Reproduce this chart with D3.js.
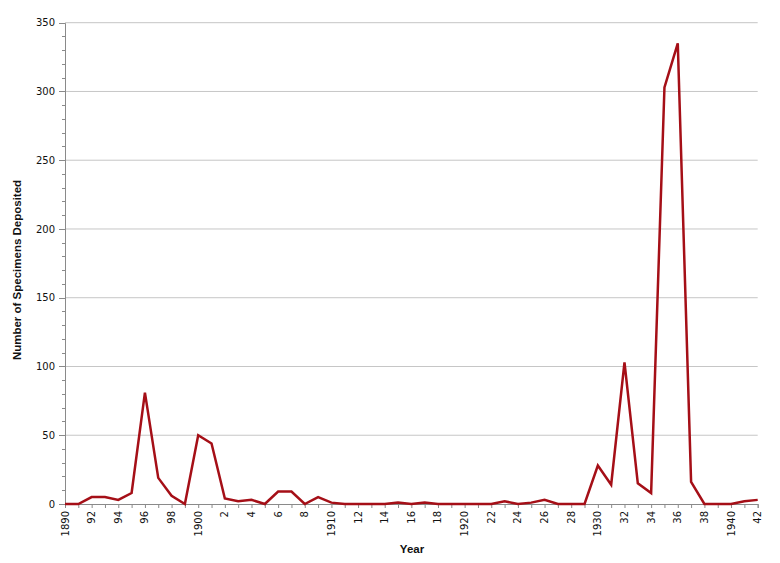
<!DOCTYPE html>
<html><head><meta charset="utf-8">
<script src="https://cdn.jsdelivr.net/npm/d3@7"></script>
<style>body{margin:0;background:#fff}</style>
</head><body>
<svg id="c" width="780" height="563"></svg>
<script>
const years = d3.range(1890, 1943);
const specimens = [0,0,5,5,3,8,81,19,6,0,
  50,44,4,2,3,0,9,9,0,5,
  1,0,0,0,0,1,0,1,0,0,
  0,0,0,2,0,1,3,0,0,0,
  28,14,103,15,8,303,335,16,0,0,
  0,2,3];
const tickYears = d3.range(1890, 1943, 2);
const tickLabels = ["1890","92","94","96","98","1900","2","4","6","8","1910","12","14","16","18","1920","22","24","26","28","1930","32","34","36","38","1940","42"];
const yTicks = [0,50,100,150,200,250,300,350];

const svg = d3.select("#c");
const L = 65, R = 757.7, T = 22.7, B = 504;
const x = d3.scaleLinear().domain([1890, 1942]).range([L, R]);
const y = d3.scaleLinear().domain([0, 350]).range([B, T]);

// gridlines
svg.append("g").selectAll("line").data(yTicks.filter(d => d > 0)).join("line")
  .attr("x1", L).attr("x2", R).attr("y1", d => y(d)).attr("y2", d => y(d))
  .attr("stroke", "#c6c6c6").attr("stroke-width", 1);

// y axis minor ticks
const minor = d3.range(0, 351, 10);
svg.append("g").selectAll("line").data(minor).join("line")
  .attr("x1", d => L - (d % 50 === 0 ? 6 : 3)).attr("x2", L)
  .attr("y1", d => Math.round(y(d)) + 0.5).attr("y2", d => Math.round(y(d)) + 0.5)
  .attr("stroke", "#8a8a8a");

// y axis
const yAxis = d3.axisLeft(y).tickValues(yTicks).tickSize(0).tickPadding(10);
const gy = svg.append("g").attr("transform", `translate(${L},0)`).call(yAxis);
gy.select(".domain").attr("stroke", "#8a8a8a");
gy.selectAll("text").attr("font-family", "DejaVu Sans, Verdana, sans-serif").attr("font-size", 10).attr("fill", "#111");

// x axis
const xAxis = d3.axisBottom(x).tickValues(years).tickSize(4).tickFormat(() => "");
const gx = svg.append("g").attr("transform", `translate(0,${B})`).call(xAxis);
gx.select(".domain").attr("stroke", "#8a8a8a");
gx.selectAll(".tick line").attr("stroke", "#8a8a8a");

svg.append("g").selectAll("text").data(tickYears).join("text")
  .attr("transform", d => `translate(${x(d) + 3.5},${B + 7}) rotate(-90)`)
  .attr("text-anchor", "end")
  .attr("font-family", "DejaVu Sans, Verdana, sans-serif").attr("font-size", 10).attr("fill", "#111")
  .text((d, i) => tickLabels[i]);

// line
const line = d3.line().x((d, i) => x(years[i])).y(d => y(d));
svg.append("path").datum(specimens).attr("d", line)
  .attr("fill", "none").attr("stroke", "#a50f17").attr("stroke-width", 2.5)
  .attr("stroke-linejoin", "miter");

// titles
svg.append("text").attr("x", 412).attr("y", 553).attr("text-anchor", "middle")
  .attr("font-family", "Liberation Sans, Arial, sans-serif").attr("font-weight", "bold")
  .attr("font-size", 11.5).attr("fill", "#111").text("Year");
svg.append("text").attr("transform", "translate(21,270) rotate(-90)").attr("text-anchor", "middle")
  .attr("font-family", "Liberation Sans, Arial, sans-serif").attr("font-weight", "bold")
  .attr("font-size", 11.5).attr("fill", "#111").text("Number of Specimens Deposited");
</script>
</body></html>
